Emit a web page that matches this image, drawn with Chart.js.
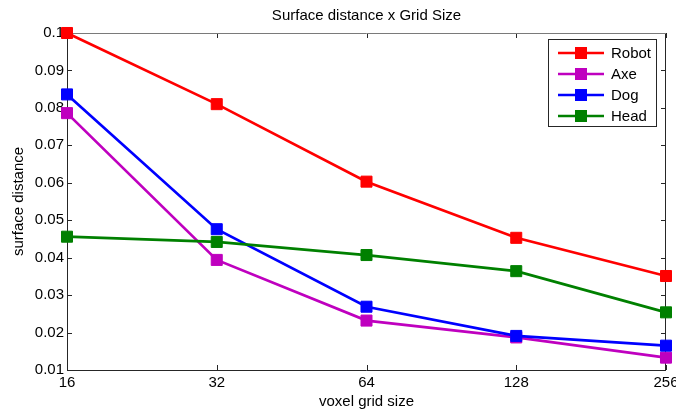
<!DOCTYPE html>
<html>
<head>
<meta charset="utf-8">
<title>Surface distance x Grid Size</title>
<script src="https://cdn.jsdelivr.net/npm/chart.js@4/dist/chart.umd.min.js"></script>
<style>
  html, body { margin: 0; padding: 0; background: #ffffff; }
  canvas { display: block; }
</style>
</head>
<body>
<canvas id="chart" width="676" height="412"></canvas>
<script>
// Voxel grid sizes (x categories) and mean surface distance per model
const gridSizes = ['16', '32', '64', '128', '256'];
const robot = [0.1000, 0.0810, 0.0603, 0.0453, 0.0351];
const axe   = [0.0786, 0.0394, 0.0232, 0.0187, 0.0133];
const dog   = [0.0836, 0.0476, 0.0269, 0.0191, 0.0165];
const head  = [0.0456, 0.0442, 0.0407, 0.0364, 0.0254];
const yTicks = [0.01, 0.02, 0.03, 0.04, 0.05, 0.06, 0.07, 0.08, 0.09, 0.1];

const FONT = '"Liberation Sans", Arial, Helvetica, sans-serif';
Chart.defaults.font.family = FONT;
Chart.defaults.font.size = 15;
Chart.defaults.color = '#000000';

function series(label, data, color, order) {
  return {
    label, data, order,
    borderColor: color,
    backgroundColor: color,
    borderWidth: 2.7,
    pointStyle: 'rect',
    pointRadius: 7.8,
    pointBorderWidth: 1,
    pointBorderColor: color,
    pointBackgroundColor: color,
    tension: 0,
    clip: false
  };
}

// Axes box with inward tick marks on all four sides
const frame = {
  id: 'frame',
  beforeDatasetsDraw(chart) {
    const { ctx, chartArea: { left, right, top, bottom }, scales: { x, y } } = chart;
    const len = 5;
    ctx.save();
    ctx.lineWidth = 1;
    ctx.strokeStyle = '#262626';
    ctx.beginPath();
    y.ticks.forEach(t => {
      const py = Math.round(y.getPixelForValue(t.value)) + 0.5;
      ctx.moveTo(left, py); ctx.lineTo(left + len, py);
      ctx.moveTo(right, py); ctx.lineTo(right - len, py);
    });
    x.ticks.forEach((t, i) => {
      const px = Math.round(x.getPixelForTick(i)) + 0.5;
      ctx.moveTo(px, bottom); ctx.lineTo(px, bottom - len);
      ctx.moveTo(px, top); ctx.lineTo(px, top + len);
    });
    ctx.stroke();

    ctx.beginPath();
    ctx.moveTo(left + 0.5, top);
    ctx.lineTo(left + 0.5, bottom + 0.5);
    ctx.lineTo(right - 0.5, bottom + 0.5);
    ctx.lineTo(right - 0.5, top);
    ctx.stroke();

    ctx.strokeStyle = '#7a7a7a';
    ctx.beginPath();
    ctx.moveTo(left, top + 0.5);
    ctx.lineTo(right, top + 0.5);
    ctx.stroke();
    ctx.restore();
  }
};

// Boxed legend in the upper right corner, line + square marker per series
const boxLegend = {
  id: 'boxLegend',
  afterDatasetsDraw(chart) {
    const { ctx } = chart;
    const sets = chart.data.datasets;
    const bx = 548, by = 39, bw = 109, bh = 88;
    ctx.save();
    ctx.fillStyle = '#ffffff';
    ctx.fillRect(bx, by, bw, bh);
    ctx.lineWidth = 1;
    ctx.strokeStyle = '#262626';
    ctx.strokeRect(bx + 0.5, by + 0.5, bw - 1, bh - 1);
    ctx.font = '15px ' + FONT;
    ctx.textBaseline = 'middle';
    ctx.textAlign = 'left';
    sets.forEach((ds, i) => {
      const cy = 53 + i * 21;
      ctx.strokeStyle = ds.borderColor;
      ctx.lineWidth = 2.7;
      ctx.beginPath();
      ctx.moveTo(558, cy); ctx.lineTo(604, cy);
      ctx.stroke();
      ctx.fillStyle = ds.backgroundColor;
      ctx.fillRect(575, cy - 6, 12, 12);
      ctx.fillStyle = '#000000';
      ctx.fillText(ds.label, 611, cy + 0.5);
    });
    ctx.restore();
  }
};

new Chart(document.getElementById('chart'), {
  type: 'line',
  data: {
    labels: gridSizes,
    datasets: [
      series('Robot', robot, '#ff0000', 3),
      series('Axe', axe, '#bf00bf', 2),
      series('Dog', dog, '#0000ff', 1),
      series('Head', head, '#008000', 0)
    ]
  },
  options: {
    responsive: false,
    animation: false,
    events: [],
    layout: { padding: { left: 0, right: 10, top: 0, bottom: 0 } },
    plugins: {
      legend: { display: false },
      tooltip: { enabled: false },
      title: {
        display: true,
        text: 'Surface distance x Grid Size',
        fullSize: false,
        color: '#000000',
        font: { size: 15, weight: 'normal' },
        padding: { top: 6.5, bottom: 8.5 }
      }
    },
    scales: {
      x: {
        type: 'category',
        offset: false,
        grid: { display: false, drawTicks: false },
        border: { display: false },
        ticks: { padding: 3.5, maxRotation: 0, autoSkip: false, color: '#000000' },
        title: {
          display: true,
          text: 'voxel grid size',
          color: '#000000',
          padding: { top: 0, bottom: 1.5 }
        },
        afterFit(s) { s.height = 42; s.paddingLeft = 0; s.paddingRight = 0; }
      },
      y: {
        min: 0.01,
        max: 0.1,
        afterBuildTicks(s) { s.ticks = yTicks.map(v => ({ value: v })); },
        grid: { display: false, drawTicks: false },
        border: { display: false },
        ticks: {
          padding: 3,
          color: '#000000',
          callback: v => Number(v.toFixed(2)).toString()
        },
        title: {
          display: true,
          text: 'surface distance',
          color: '#000000',
          padding: { top: 10, bottom: 0 }
        },
        afterFit(s) { s.width = 67; s.paddingTop = 0; s.paddingBottom = 0; }
      }
    }
  },
  plugins: [frame, boxLegend]
});
</script>
</body>
</html>
